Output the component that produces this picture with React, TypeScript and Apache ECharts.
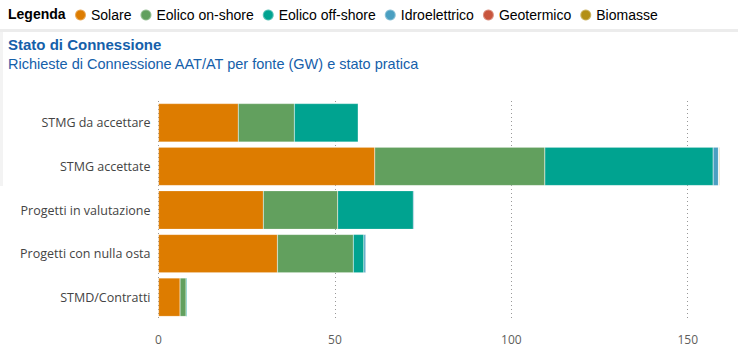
import React, { useEffect, useRef } from "react";
import * as echarts from "echarts";

const categories = ["STMG da accettare", "STMG accettate", "Progetti in valutazione", "Progetti con nulla osta", "STMD/Contratti"];
const seriesNames = ["Solare", "Eolico on-shore", "Eolico off-shore", "Idroelettrico", "Geotermico", "Biomasse"];
const colors = ["#DD7C00", "#62A05E", "#00A390", "#4A9FC1", "#C8553D", "#B38F14"];
const solare = [22.6, 61.3, 29.7, 33.7, 6.1];
const eolicoOn = [15.9, 48.2, 21.1, 21.5, 1.7];
const eolicoOff = [18.1, 47.7, 21.4, 3.0, 0.3];
const idro = [0.1, 1.5, 0.3, 0.6, 0.1];
const geo = [0, 0.1, 0, 0, 0];
const bio = [0, 0.2, 0, 0, 0];
const xTicks = [0, 50, 100, 150];

export default function App() {
  const ref = useRef<HTMLDivElement>(null);
  useEffect(() => {
    const chart = echarts.init(ref.current!, null, { renderer: "svg" });
    const data = [solare, eolicoOn, eolicoOff, idro, geo, bio];
    chart.setOption({
      animation: false,
      textStyle: { fontFamily: "Liberation Sans, Arial, sans-serif" },
      graphic: [
        { type: "rect", shape: { x: 0, y: 29, width: 738, height: 3 }, style: { fill: "#ececec" } },
        { type: "rect", shape: { x: 0, y: 32, width: 3, height: 154 }, style: { fill: "#f3f3f3" } },
        { type: "text", left: 8, top: 7, style: { text: "Legenda", font: "bold 14px Liberation Sans, Arial, sans-serif", fill: "#000" } },
        { type: "text", left: 8, top: 37, style: { text: "Stato di Connessione", font: "bold 15px Liberation Sans, Arial, sans-serif", fill: "#1560AA" } },
        { type: "text", left: 8, top: 56, style: { text: "Richieste di Connessione AAT/AT per fonte (GW) e stato pratica", font: "14.5px Liberation Sans, Arial, sans-serif", fill: "#1560AA" } },
      ],
      legend: {
        left: 69,
        top: 3,
        icon: "circle",
        itemWidth: 11,
        itemHeight: 11,
        itemGap: 8,
        data: seriesNames,
        textStyle: { fontSize: 14, color: "#000" },
      },
      grid: { left: 158.5, right: 15, top: 101, bottom: 40, containLabel: false },
      xAxis: {
        type: "value",
        min: 0,
        max: 160,
        interval: 50,
        axisLine: { show: false },
        axisTick: { show: false },
        axisLabel: {
          color: "#605E5C",
          fontSize: 12,
          margin: 14,
          fontFamily: "Open Sans, sans-serif",
          formatter: (v: number) => (xTicks.includes(v) ? String(v) : ""),
        },
        splitLine: { show: true, lineStyle: { type: [1, 3], color: ["#999", "#999", "#999", "#999", "rgba(0,0,0,0)"], width: 1 } },
      },
      yAxis: {
        type: "category",
        data: categories,
        inverse: true,
        axisLine: { show: false },
        axisTick: { show: false },
        axisLabel: { color: "#444", fontSize: 12.5, margin: 8, fontFamily: "Open Sans, sans-serif" },
      },
      series: seriesNames.map((n, i) => ({
        name: n,
        type: "bar",
        stack: "total",
        data: data[i],
        barCategoryGap: "12%",
        itemStyle: { color: colors[i], borderColor: "rgba(255,255,255,0.35)", borderWidth: 0.5 },
      })),
    });
    return () => chart.dispose();
  }, []);
  return <div ref={ref} style={{ width: 738, height: 359, position: "absolute", left: 0, top: 0 }} />;
}
